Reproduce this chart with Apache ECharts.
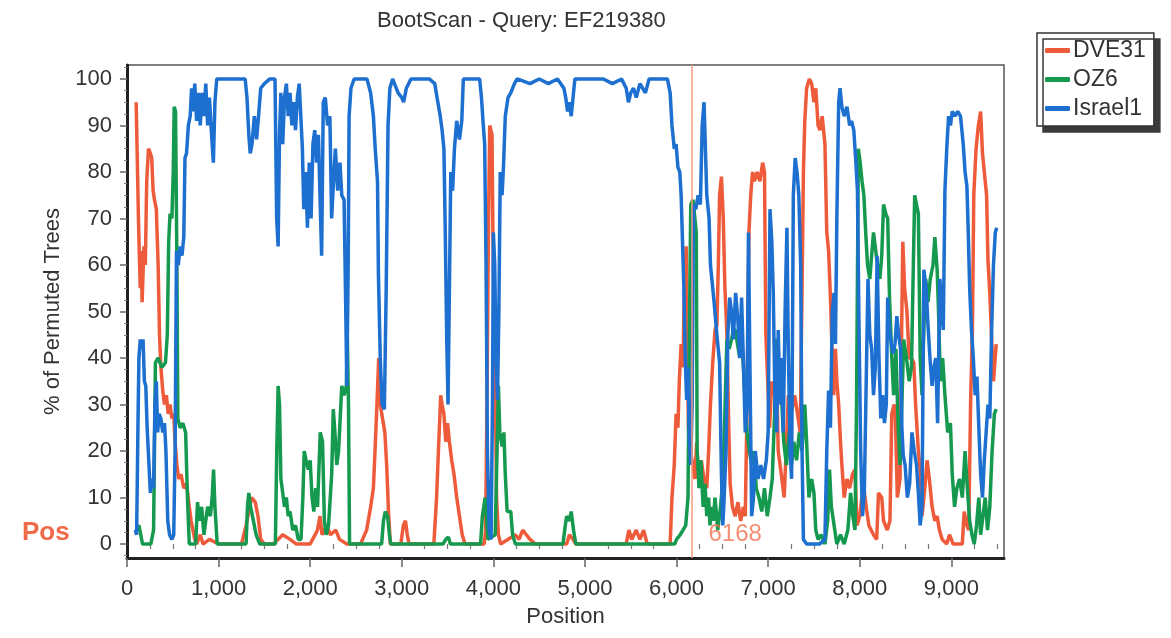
<!DOCTYPE html>
<html>
<head>
<meta charset="utf-8">
<script src="https://cdn.jsdelivr.net/npm/echarts@6/dist/echarts.min.js"></script>
<style>html,body{margin:0;padding:0;background:#fff}#c{width:1171px;height:638px}</style>
</head>
<body>
<div id="c"></div>
<script>
const seriesNames = ['DVE31', 'OZ6', 'Israel1'];
const yTickValues = [0,10,20,30,40,50,60,70,80,90,100];
const yMinorTicks = [-2.5,2.5,5,7.5,12.5,15,17.5,22.5,25,27.5,32.5,35,37.5,42.5,45,47.5,52.5,55,57.5,62.5,65,67.5,72.5,75,77.5,82.5,85,87.5,92.5,95,97.5,102.5];
const xTickValues = [0,1000,2000,3000,4000,5000,6000,7000,8000,9000];
const xMinorTicks = [250,500,750,1250,1500,1750,2250,2500,2750,3250,3500,3750,4250,4500,4750,5250,5500,5750,6250,6500,6750,7250,7500,7750,8250,8500,8750,9250,9500];
const breakpointPos = 6168;

const dve31 = [[100,95],[115,80],[125,70],[135,62],[145,55],[155,63],[165,52],[175,58],[185,64],[200,60],[215,78],[235,85],[255,84],[270,83],[285,76],[300,74],[320,72],[340,60],[355,45],[370,38],[390,33],[410,30],[430,32],[450,28],[470,30],[490,27],[510,28],[525,22],[545,17],[565,14],[590,15],[620,12],[650,13],[680,8],[700,5],[720,3],[740,1],[760,0],[800,2],[830,0],[900,1],[1000,0],[1100,0],[1250,0],[1300,4],[1340,8],[1360,10],[1400,9],[1430,6],[1460,1],[1500,0],[1600,0],[1700,2],[1780,1],[1850,0],[2000,0],[2080,3],[2107,6],[2130,2],[2180,4],[2220,2],[2280,3],[2320,1],[2400,0],[2550,0],[2616,3],[2660,8],[2690,12],[2710,21],[2735,33],[2748,40],[2765,30],[2790,27],[2815,24],[2835,17],[2855,7],[2875,0],[2990,0],[3017,4],[3040,5],[3060,2],[3080,0],[3350,0],[3380,10],[3400,20],[3425,32],[3440,30],[3460,28],[3480,22],[3500,26],[3520,22],[3545,18],[3570,15],[3600,10],[3630,6],[3660,2],[3690,0],[3900,0],[3915,3],[3930,30],[3945,65],[3960,90],[3985,88],[3995,67],[4010,45],[4020,35],[4035,10],[4055,2],[4080,0],[4240,2],[4280,1],[4320,3],[4360,2],[4400,1],[4460,0],[4800,0],[4830,2],[4870,1],[4900,0],[5450,0],[5480,3],[5510,1],[5560,3],[5600,1],[5640,3],[5680,0],[5930,0],[5950,10],[5975,17],[5995,28],[6015,25],[6030,35],[6050,43],[6070,38],[6085,55],[6105,64],[6115,45],[6130,25],[6150,20],[6180,17],[6200,14],[6220,22],[6240,14],[6270,18],[6300,14],[6330,12],[6350,20],[6370,30],[6395,39],[6420,46],[6440,47],[6456,60],[6470,75],[6490,79],[6510,70],[6528,55],[6550,45],[6570,25],[6585,13],[6610,8],[6640,6],[6670,9],[6700,5],[6730,8],[6750,6],[6770,30],[6790,67],[6810,75],[6830,80],[6850,78],[6880,80],[6910,78],[6940,82],[6960,80],[6975,45],[6995,35],[7015,25],[7040,35],[7060,32],[7090,38],[7110,20],[7150,14],[7175,10],[7200,22],[7220,32],[7250,28],[7290,32],[7320,28],[7350,24],[7370,55],[7385,80],[7400,91],[7420,98],[7450,100],[7475,99],[7500,95],[7520,98],[7545,90],[7565,89],[7590,92],[7620,86],[7640,67],[7660,63],[7680,53],[7700,40],[7715,32],[7735,42],[7750,35],[7770,30],[7790,22],[7805,17],[7830,10],[7860,14],[7890,12],[7920,15],[7948,16],[7970,4],[8000,6],[8040,13],[8070,8],[8100,4],[8150,2],[8185,1],[8205,11],[8240,10],[8260,5],[8300,3],[8330,5],[8350,28],[8375,30],[8390,27],[8410,10],[8440,14],[8457,45],[8470,65],[8490,55],[8515,50],[8540,40],[8565,40],[8590,39],[8610,30],[8640,20],[8660,16],[8680,6],[8710,12],[8735,18],[8760,14],[8790,8],[8820,5],[8845,6],[8870,3],[8900,1],[8950,0],[8980,2],[9020,0],[9120,0],[9140,7],[9170,4],[9190,3],[9210,30],[9230,46],[9245,75],[9270,85],[9295,90],[9320,93],[9340,84],[9360,80],[9385,75],[9400,61],[9420,54],[9440,44],[9460,35],[9490,43]];

const oz6 = [[100,3],[130,4],[150,2],[170,0],[260,0],[290,3],[300,20],[310,39],[340,40],[380,38],[420,39],[440,45],[455,65],[470,71],[490,70],[505,80],[515,94],[530,93],[545,60],[555,27],[580,25],[610,26],[640,24],[660,10],[680,0],[750,0],[770,9],[790,5],[815,8],[840,2],[860,5],[880,8],[910,6],[930,10],[945,16],[960,8],[985,0],[1300,0],[1315,8],[1330,11],[1350,8],[1380,5],[1410,2],[1450,0],[1620,0],[1635,20],[1650,34],[1665,30],[1680,14],[1700,11],[1720,8],[1740,10],[1760,6],[1780,7],[1810,3],[1840,4],[1870,1],[1900,1],[1920,10],[1935,20],[1955,18],[1980,16],[2000,18],[2020,10],[2040,7],[2060,12],[2080,8],[2110,24],[2135,22],[2155,5],[2175,2],[2200,4],[2235,15],[2252,29],[2270,24],[2290,17],[2310,20],[2345,34],[2370,32],[2395,34],[2405,45],[2418,30],[2430,0],[2780,0],[2800,5],[2820,7],[2845,6],[2865,2],[2880,0],[3450,0],[3480,1],[3510,1.5],[3530,0],[3860,0],[3880,6],[3910,10],[3925,6],[3940,1],[4020,2],[4040,20],[4055,34],[4070,24],[4095,21],[4115,24],[4130,15],[4150,7],[4190,7],[4210,2],[4240,0],[4760,0],[4785,4],[4800,6],[4830,5],[4850,7],[4875,3],[4900,0],[5980,0],[6000,1],[6040,2],[6070,3],[6100,4],[6125,10],[6140,45],[6155,73],[6180,74],[6200,70],[6215,67],[6225,20],[6245,12],[6265,18],[6290,8],[6310,13],[6330,6],[6350,10],[6365,4],[6380,8],[6400,5],[6420,10],[6450,3],[6480,8],[6510,15],[6530,30],[6550,44],[6575,42],[6600,44],[6620,46],[6645,46],[6665,43],[6690,40],[6710,44],[6730,38],[6750,30],[6770,24],[6795,20],[6820,17],[6845,20],[6870,12],[6900,10],[6930,7],[6960,12],[6990,6],[7020,10],[7045,14],[7070,28],[7090,44],[7110,38],[7130,33],[7150,30],[7170,22],[7200,17],[7230,24],[7255,17],[7280,22],[7310,18],[7340,24],[7370,20],[7400,30],[7420,22],[7445,10],[7475,14],[7500,11],[7520,3],[7545,1],[7580,2],[7620,0],[7650,5],[7670,16],[7690,8],[7720,4],[7750,0],[7790,2],[7830,0],[7870,3],[7900,11],[7925,6],[7948,3],[7965,30],[7985,85],[8005,82],[8025,78],[8045,75],[8065,67],[8085,60],[8110,57],[8130,62],[8150,67],[8175,63],[8200,59],[8220,57],[8240,62],[8260,73],[8285,71],[8305,70],[8325,53],[8350,40],[8370,32],[8395,42],[8420,25],[8440,17],[8460,30],[8480,44],[8510,40],[8540,35],[8565,38],[8585,60],[8600,75],[8620,73],[8640,71],[8660,40],[8680,32],[8700,46],[8720,57],[8745,52],[8770,57],[8800,60],[8820,66],[8845,59],[8860,50],[8880,35],[8905,40],[8930,32],[8960,24],[8990,26],[9010,15],[9035,8],[9060,12],[9090,14],[9120,10],[9150,20],[9175,12],[9200,5],[9225,2],[9250,0],[9275,4],[9300,10],[9320,2],[9345,6],[9370,10],[9395,3],[9420,8],[9445,20],[9470,28],[9490,29]];

const israel1 = [[90,3],[105,2],[120,26],[130,40],[145,44],[160,42],[175,44],[190,35],[205,34],[220,25],[240,17],[255,11],[270,14],[290,12],[305,30],[320,35],[335,24],[350,28],[370,27],[390,24],[410,26],[425,20],[445,5],[465,2],[490,1],[510,2],[525,20],[540,63],[560,60],[580,64],[600,62],[620,66],[633,83],[650,84],[670,90],[690,92],[705,98],[720,93],[740,99],[760,91],[780,97],[800,90],[820,97],[840,92],[860,99],[880,90],[900,96],[920,89],[943,82],[960,95],[980,100],[1100,100],[1200,100],[1290,100],[1310,96],[1330,88],[1345,84],[1365,86],[1390,92],[1415,87],[1440,93],[1460,98],[1500,99],[1560,100],[1616,100],[1634,70],[1650,64],[1665,88],[1680,97],[1700,86],[1720,96],[1740,99],[1760,92],[1780,97],[1800,90],[1820,95],[1840,89],[1860,96],[1880,99],[1900,99],[1915,85],[1930,72],[1950,80],[1970,68],[1990,82],[2010,70],[2030,86],[2050,89],[2070,82],[2090,88],[2107,75],[2125,62],[2143,95],[2165,96],[2190,90],[2215,92],[2234,70],[2255,78],[2275,85],[2300,76],[2325,82],[2345,75],[2370,74],[2385,55],[2400,34],[2415,60],[2425,92],[2445,98],[2480,100],[2550,100],[2620,100],[2660,97],[2690,92],[2710,85],[2735,78],[2745,58],[2765,40],[2785,30],[2810,29],[2830,55],[2850,90],[2870,98],[2900,100],[2960,97],[3000,96],[3020,95],[3050,98],[3100,100],[3200,100],[3300,100],[3360,99],[3385,96],[3420,92],[3440,89],[3460,85],[3475,67],[3490,45],[3505,30],[3520,55],[3535,80],[3555,76],[3575,85],[3600,91],[3630,87],[3655,91],[3672,100],[3750,100],[3850,100],[3870,96],[3890,90],[3905,86],[3920,60],[3935,20],[3955,3],[3975,1],[3990,30],[4000,67],[4015,60],[4030,40],[4045,31],[4060,50],[4075,80],[4095,75],[4110,81],[4130,92],[4160,96],[4190,97],[4230,99],[4260,100],[4400,99],[4500,100],[4600,99],[4700,100],[4770,98],[4790,96],[4810,93],[4830,95],[4850,92],[4875,97],[4890,100],[5000,100],[5100,100],[5200,100],[5300,99],[5400,100],[5450,98],[5475,95],[5500,97],[5530,98],[5560,96],[5600,99],[5660,97],[5700,100],[5800,100],[5900,100],[5930,97],[5950,90],[5975,85],[5995,86],[6015,81],[6035,80],[6050,75],[6065,65],[6080,55],[6095,40],[6110,31],[6125,38],[6140,22],[6155,17],[6170,30],[6185,73],[6210,72],[6235,75],[6260,73],[6280,90],[6300,95],[6315,85],[6330,75],[6355,70],[6370,60],[6385,57],[6410,52],[6440,45],[6470,39],[6490,15],[6505,4],[6520,10],[6540,20],[6560,45],[6580,53],[6600,50],[6620,44],[6645,54],[6670,48],[6690,40],[6710,53],[6730,39],[6750,24],[6770,30],[6785,67],[6800,40],[6820,6],[6840,10],[6860,20],[6890,14],[6920,17],[6950,14],[6980,18],[7000,24],[7020,72],[7040,65],[7056,54],[7075,30],[7093,24],[7110,46],[7130,30],[7150,40],[7165,24],[7185,50],[7205,68],[7220,42],[7240,20],[7256,14],[7275,75],[7295,83],[7315,80],[7335,75],[7355,60],[7370,20],[7385,1],[7420,0],[7500,0],[7560,0],[7620,1],[7640,20],[7660,33],[7680,25],[7700,50],[7720,54],[7735,43],[7750,70],[7770,95],[7785,98],[7805,94],[7830,92],[7860,94],[7890,90],[7910,91],[7935,89],[7955,83],[7975,76],[7990,50],[8010,20],[8030,6],[8050,11],[8075,40],[8090,57],[8110,45],[8130,42],[8150,32],[8170,38],[8190,62],[8210,40],[8230,27],[8250,32],[8270,26],[8290,30],[8305,53],[8325,46],[8345,43],[8365,41],[8385,43],[8405,49],[8425,45],[8445,42],[8460,25],[8475,19],[8495,17],[8520,10],[8545,13],[8570,24],[8595,20],[8620,17],[8640,11],[8660,4],[8680,8],[8700,59],[8725,55],[8745,47],[8770,39],[8790,34],[8810,38],[8830,40],[8850,26],[8875,57],[8895,50],[8912,46],[8930,76],[8950,85],[8970,92],[8990,90],[9010,93],[9040,92],[9070,93],[9100,92],[9130,86],[9150,80],[9170,77],[9185,67],[9200,55],[9220,46],[9240,40],[9260,32],[9280,36],[9300,25],[9320,15],[9340,10],[9360,18],[9380,24],[9400,30],[9420,27],[9440,46],[9460,60],[9480,67],[9495,68]];

const colors = ['#ee5b3b', '#14994f', '#1d6fd0'];
const FONT = '"Liberation Sans", Arial, sans-serif';

const chart = echarts.init(document.getElementById('c'), null, {renderer: 'canvas'});
function fmt(v){ return String(v).replace(/\B(?=(\d{3})+(?!\d))/g, ','); }

const lineSeries = (name, data, color) => ({
  name, type: 'line', data, showSymbol: false, symbol: 'none',
  xAxisIndex: 0, yAxisIndex: 0,
  lineStyle: {color, width: 3.5}, itemStyle: {color},
  animation: false, z: 3
});

const option = {
  animation: false,
  backgroundColor: '#ffffff',
  textStyle: {fontFamily: FONT},
  title: {
    text: 'BootScan - Query: EF219380', left: 372, top: 5,
    textStyle: {fontFamily: FONT, fontSize: 22, fontWeight: 'normal', color: '#333'}
  },
  legend: {
    data: seriesNames, orient: 'vertical', left: 1037, top: 33,
    itemWidth: 25, itemHeight: 5, itemGap: 6, icon: 'roundRect',
    padding: [6, 8, 6, 8],
    backgroundColor: '#fff', borderColor: '#333', borderWidth: 1.5,
    shadowColor: '#3a3a3a', shadowOffsetX: 6, shadowOffsetY: 6, shadowBlur: 0,
    textStyle: {fontFamily: FONT, fontSize: 23, color: '#333', padding: [0,0,0,-2]}
  },
  grid: {left: 127, right: 167, top: 65, bottom: 80, show: true, borderColor: '#555', borderWidth: 1.5, containLabel: false},
  xAxis: [{
    type: 'value', min: 0, max: 9575,
    name: 'Position', nameLocation: 'middle', nameGap: 48,
    nameTextStyle: {fontFamily: FONT, fontSize: 22, color: '#333'},
    axisLine: {show: true, onZero: false, lineStyle: {color: '#222', width: 3}},
    axisTick: {show: true, customValues: xTickValues, length: 9, lineStyle: {color: '#666', width: 1.5}},
    axisLabel: {customValues: xTickValues, formatter: fmt, margin: 20, fontFamily: FONT, fontSize: 22, color: '#333'},
    splitLine: {show: false}
  }, {
    type: 'value', min: 0, max: 9575, position: 'bottom', gridIndex: 0,
    axisLine: {show: false},
    axisTick: {show: true, customValues: xMinorTicks, length: 5, lineStyle: {color: '#777', width: 1.2}},
    axisLabel: {show: false}, splitLine: {show: false}
  }],
  yAxis: [{
    type: 'value', min: -3, max: 103,
    name: '% of Permuted Trees', nameLocation: 'middle', nameGap: 60, nameRotate: 90,
    nameTextStyle: {fontFamily: FONT, fontSize: 22, color: '#333'},
    axisLine: {show: true, onZero: false, lineStyle: {color: '#222', width: 3}},
    axisTick: {show: true, customValues: yTickValues, length: 7, lineStyle: {color: '#666', width: 1.5}},
    axisLabel: {customValues: yTickValues, margin: 15, fontFamily: FONT, fontSize: 22, color: '#333'},
    splitLine: {show: false}
  }, {
    type: 'value', min: -3, max: 103, position: 'left', gridIndex: 0,
    axisLine: {show: false},
    axisTick: {show: true, customValues: yMinorTicks, length: 3, lineStyle: {color: '#888', width: 1}},
    axisLabel: {show: false}, splitLine: {show: false}
  }],
  graphic: [{
    type: 'text', left: 22, top: 520,
    style: {text: 'Pos', fill: '#ee6a48', font: 'bold 26px ' + FONT}
  }],
  series: [
    lineSeries('DVE31', dve31, colors[0]),
    lineSeries('OZ6', oz6, colors[1]),
    lineSeries('Israel1', israel1, colors[2]),
    {
      name: 'breakpoint', type: 'scatter', data: [[breakpointPos, 2]], symbolSize: 1,
      itemStyle: {color: 'rgba(0,0,0,0)'}, z: 5, silent: true,
      label: {show: true, position: 'right', distance: 16, formatter: String(breakpointPos),
        fontFamily: FONT, fontSize: 24, color: '#f07050'},
      markLine: {
        silent: true, symbol: 'none', animation: false,
        label: {show: false},
        lineStyle: {color: '#f39a7c', width: 1.5, type: 'solid'},
        data: [{xAxis: breakpointPos}]
      }
    }
  ]
};
chart.setOption(option);
</script>
</body>
</html>
